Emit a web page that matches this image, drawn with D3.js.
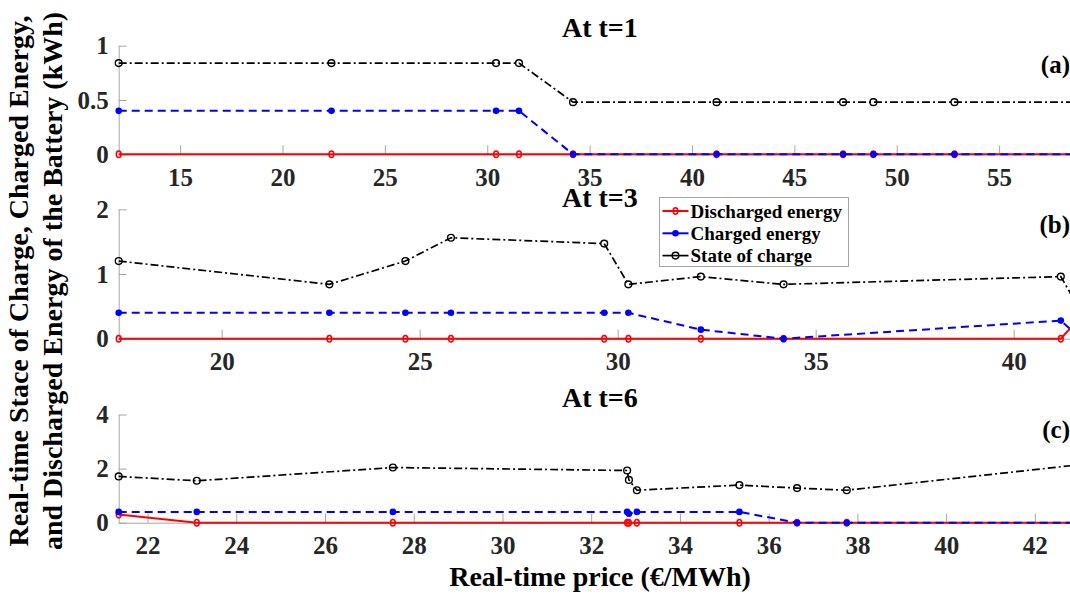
<!DOCTYPE html>
<html>
<head>
<meta charset="utf-8">
<script src="https://cdn.jsdelivr.net/npm/d3@7/dist/d3.min.js"></script>
<style>
body { margin: 0; background: #fff; }
text { font-family: "Liberation Serif", "Times New Roman", serif; font-weight: bold; }
</style>
</head>
<body>
<div id="chart"></div>
<script>
// panel (a), t=1
var priceA = [12, 22.39, 30.43, 31.55, 34.19, 41.2, 47.38, 48.86, 52.82, 59];
var dischA = [0, 0, 0, 0, 0, 0, 0, 0, 0, 0];
var chargA = [0.4, 0.4, 0.4, 0.4, 0, 0, 0, 0, 0, 0];
var socA   = [0.84, 0.84, 0.84, 0.84, 0.48, 0.48, 0.48, 0.48, 0.48, 0.48];

// panel (b), t=3
var priceB = [17.4, 22.72, 24.64, 25.79, 29.66, 30.27, 32.1, 34.19, 41.19, 41.7];
var dischB = [0, 0, 0, 0, 0, 0, 0, 0, 0, 0.35];
var chargB = [0.4, 0.4, 0.4, 0.4, 0.4, 0.4, 0.14, 0, 0.28, 0];
var socB   = [1.2, 0.84, 1.2, 1.56, 1.47, 0.84, 0.96, 0.84, 0.96, 0.42];

// panel (c), t=6
var priceC = [21.35, 23.11, 27.53, 32.81, 32.85, 33.03, 35.34, 36.64, 37.76, 43.04];
var dischC = [0.3, 0, 0, 0, 0, 0, 0, 0, 0, 0];
var chargC = [0.4, 0.4, 0.4, 0.4, 0.33, 0.4, 0.4, 0, 0, 0];
var socC   = [1.71, 1.55, 2.04, 1.93, 1.58, 1.2, 1.39, 1.28, 1.2, 2.15];

var xTicksA = [15, 20, 25, 30, 35, 40, 45, 50, 55];
var xTicksB = [20, 25, 30, 35, 40];
var xTicksC = [22, 24, 26, 28, 30, 32, 34, 36, 38, 40, 42];
var yTicksA = [0, 0.5, 1];
var yTicksB = [0, 1, 2];
var yTicksC = [0, 2, 4];
var yMaxes = [1, 2, 4];

var titles = ["At t=1", "At t=3", "At t=6"];
var tags = ["(a)", "(b)", "(c)"];
var seriesNames = ["Discharged energy", "Charged energy", "State of charge"];

var width = 1070, height = 595;
var left = 118.7, right = 1081;
var tickColor = "#a6a6a6", labelColor = "#262626";
var serif = "'Liberation Serif', 'Times New Roman', serif";

var panels = [
    {price: priceA, series: [dischA, chargA, socA], xt: xTicksA, yt: yTicksA, top: 45.7, bottom: 154.3, titleY: 37, tagY: 73},
    {price: priceB, series: [dischB, chargB, socB], xt: xTicksB, yt: yTicksB, top: 209.3, bottom: 338.7, titleY: 207, tagY: 233},
    {price: priceC, series: [dischC, chargC, socC], xt: xTicksC, yt: yTicksC, top: 414.5, bottom: 522.7, titleY: 407, tagY: 438}
];

var styles = [
    {color: "#ff0000", width: 2, dash: null},
    {color: "#0000ff", width: 2, dash: "8,5"},
    {color: "#000000", width: 1.7, dash: "8,3,2,3"}
];

var svg = d3.select("#chart").append("svg").attr("width", width).attr("height", height);

function drawMarker(g, k, cx, cy) {
    if (k === 0) {
        g.append("ellipse").attr("cx", cx).attr("cy", cy).attr("rx", 2.4).attr("ry", 3.3)
            .attr("fill", "none").attr("stroke", styles[0].color).attr("stroke-width", 1.5);
    } else if (k === 1) {
        g.append("circle").attr("cx", cx).attr("cy", cy).attr("r", 3.3).attr("fill", styles[1].color);
    } else {
        g.append("circle").attr("cx", cx).attr("cy", cy).attr("r", 3.4)
            .attr("fill", "none").attr("stroke", "#000").attr("stroke-width", 1.4);
    }
}

panels.forEach(function (p, i) {
    var x = d3.scaleLinear().domain(d3.extent(p.price)).range([left, right]);
    var y = d3.scaleLinear().domain([0, yMaxes[i]]).range([p.bottom, p.top]);

    var xAxis = d3.axisBottom(x).tickValues(p.xt).tickSizeInner(-9).tickSizeOuter(0).tickPadding(14);
    var yAxis = d3.axisLeft(y).tickValues(p.yt).tickSizeInner(-8).tickSizeOuter(0).tickPadding(10)
        .tickFormat(d3.format("~g"));

    var gx = svg.append("g").attr("transform", "translate(0," + p.bottom + ")").call(xAxis);
    var gy = svg.append("g").attr("transform", "translate(" + left + ",0)").call(yAxis);
    [gx, gy].forEach(function (g) {
        g.attr("font-family", serif).attr("font-size", 25).attr("font-weight", "bold");
        g.selectAll("path, line").attr("stroke", tickColor);
        g.selectAll("text").attr("fill", labelColor)
            .style("font-family", serif).style("font-size", "25px");
    });

    p.series.forEach(function (vals, k) {
        var line = d3.line()
            .x(function (d, j) { return x(p.price[j]); })
            .y(function (d) { return y(d); });
        svg.append("path")
            .attr("d", line(vals))
            .attr("fill", "none")
            .attr("stroke", styles[k].color)
            .attr("stroke-width", styles[k].width)
            .attr("stroke-dasharray", styles[k].dash);
        var gm = svg.append("g");
        vals.forEach(function (d, j) { drawMarker(gm, k, x(p.price[j]), y(d)); });
    });

    svg.append("text").attr("x", (left + right) / 2).attr("y", p.titleY)
        .attr("text-anchor", "middle").style("font-size", "28px").text(titles[i]);
    svg.append("text").attr("x", 1070).attr("y", p.tagY)
        .attr("text-anchor", "end").style("font-size", "25px").text(tags[i]);
});

// legend
var lg = svg.append("g").attr("transform", "translate(659.5,197.5)");
lg.append("rect").attr("width", 189).attr("height", 69)
    .attr("fill", "#fff").attr("stroke", "#a6a6a6").attr("stroke-width", 1);
seriesNames.forEach(function (name, k) {
    var cy = 13.5 + k * 22.3;
    lg.append("line").attr("x1", 3).attr("x2", 29).attr("y1", cy).attr("y2", cy)
        .attr("stroke", styles[k].color).attr("stroke-width", styles[k].width);
    drawMarker(lg, k, 16, cy);
    lg.append("text").attr("x", 31).attr("y", cy + 6.5).style("font-size", "19px").attr("fill", "#000").text(name);
});

// axis titles
svg.append("text").attr("x", 600).attr("y", 586).attr("text-anchor", "middle")
    .style("font-size", "28px").text("Real-time price (€/MWh)");

var yl = svg.append("text").attr("transform", "translate(28,281) rotate(-90)")
    .attr("text-anchor", "middle").style("font-size", "28px");
yl.append("tspan").attr("x", 0).attr("y", 0).text("Real-time Stace of Charge, Charged Energy,");
yl.append("tspan").attr("x", 0).attr("y", 34).text("and Discharged Energy of the Battery (kWh)");
</script>
</body>
</html>
